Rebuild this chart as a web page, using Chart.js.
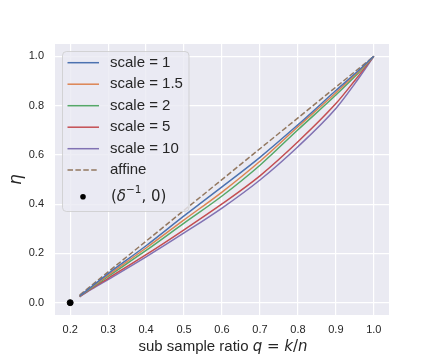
<!DOCTYPE html>
<html>
<head>
<meta charset="utf-8">
<script src="https://cdn.jsdelivr.net/npm/chart.js@4.4.0/dist/chart.umd.min.js"></script>
<style>
  body { margin: 0; background: #ffffff; }
  #wrap { width: 432px; height: 360px; }
</style>
</head>
<body>
<div id="wrap"><canvas id="myChart" width="432" height="360"></canvas></div>
<script>
// sub sample ratio q where the curves were read
const qValues = [0.225, 0.25, 0.3, 0.4, 0.5, 0.6, 0.7, 0.8, 0.9, 0.95, 1.0];

// eta for each scale
const scale1 = [0.027, 0.057, 0.118, 0.231, 0.352, 0.470, 0.590, 0.722, 0.861, 0.929, 1.0];
const scale15 = [0.027, 0.056, 0.112, 0.222, 0.336, 0.449, 0.574, 0.714, 0.852, 0.924, 1.0];
const scale2 = [0.026, 0.054, 0.107, 0.212, 0.323, 0.433, 0.558, 0.702, 0.843, 0.918, 1.0];
const scale5 = [0.025, 0.051, 0.099, 0.195, 0.296, 0.401, 0.515, 0.653, 0.808, 0.902, 1.0];
const scale10 = [0.024, 0.049, 0.094, 0.186, 0.283, 0.384, 0.498, 0.633, 0.788, 0.889, 1.0];

const affineQ = [0.225, 1.0];
const affineEta = [0.031, 1.0];

const pointQ = [0.2];
const pointEta = [0.0];

const seriesLabels = ["scale = 1", "scale = 1.5", "scale = 2", "scale = 5", "scale = 10"];
const xTicks = [0.2, 0.3, 0.4, 0.5, 0.6, 0.7, 0.8, 0.9, 1.0];
const yTicks = [0.0, 0.2, 0.4, 0.6, 0.8, 1.0];

const colors = ["#4C72B0", "#DD8452", "#55A868", "#C44E52", "#8172B3"];
const affineColor = "#937860";
const FONT = "'Liberation Sans', Arial, sans-serif";

const zip = (xs, ys) => xs.map((x, i) => ({ x: x, y: ys[i] }));

let chartInstance;

// grey panel behind the plot (seaborn darkgrid look)
const panelBg = {
  id: "panelBg",
  beforeDraw(chart) {
    const { ctx, chartArea: a } = chart;
    ctx.save();
    ctx.fillStyle = "#ffffff";
    ctx.fillRect(0, 0, chart.width, chart.height);
    ctx.fillStyle = "#EAEAF2";
    ctx.fillRect(a.left, a.top, a.right - a.left, a.bottom - a.top);
    ctx.restore();
  }
};

// draws pieces of text with their own fonts one after another
function drawRuns(ctx, runs, x, y) {
  let cx = x;
  runs.forEach(r => {
    ctx.font = r.font;
    ctx.fillText(r.t, cx, y + (r.dy || 0));
    cx += ctx.measureText(r.t).width;
  });
  return cx;
}
function runsWidth(ctx, runs) {
  let w = 0;
  runs.forEach(r => { ctx.font = r.font; w += ctx.measureText(r.t).width; });
  return w;
}

// legend box + axis titles
const decorations = {
  id: "decorations",
  afterDraw(chart) {
    const { ctx, chartArea: a } = chart;
    ctx.save();

    // legend frame
    const bx = 62.5, by = 51.5, bw = 126.5, bh = 160, r = 4;
    ctx.beginPath();
    ctx.moveTo(bx + r, by);
    ctx.arcTo(bx + bw, by, bx + bw, by + bh, r);
    ctx.arcTo(bx + bw, by + bh, bx, by + bh, r);
    ctx.arcTo(bx, by + bh, bx, by, r);
    ctx.arcTo(bx, by, bx + bw, by, r);
    ctx.closePath();
    ctx.fillStyle = "rgba(234,234,242,0.8)";
    ctx.fill();
    ctx.strokeStyle = "rgba(204,204,204,0.8)";
    ctx.lineWidth = 1;
    ctx.stroke();

    ctx.textBaseline = "middle";
    ctx.fillStyle = "#262626";
    const rowY = [62.7, 84.2, 105.7, 127.2, 148.7];
    seriesLabels.forEach((lab, i) => {
      ctx.strokeStyle = colors[i];
      ctx.lineWidth = 1.5;
      ctx.setLineDash([]);
      ctx.beginPath();
      ctx.moveTo(67.5, rowY[i]);
      ctx.lineTo(99, rowY[i]);
      ctx.stroke();
      ctx.font = "15px " + FONT;
      ctx.fillText(lab, 110, rowY[i]);
    });
    // affine
    ctx.strokeStyle = affineColor;
    ctx.setLineDash([5.5, 2.4]);
    ctx.beginPath();
    ctx.moveTo(67.5, 170);
    ctx.lineTo(99, 170);
    ctx.stroke();
    ctx.setLineDash([]);
    ctx.font = "15px " + FONT;
    ctx.fillText("affine", 110, 170);
    // point entry
    ctx.fillStyle = "#000000";
    ctx.beginPath();
    ctx.arc(83, 196.7, 2.8, 0, Math.PI * 2);
    ctx.fill();
    ctx.fillStyle = "#262626";
    drawRuns(ctx, [
      { t: "(", font: "15px 'DejaVu Sans'" },
      { t: "δ", font: "italic 15px 'DejaVu Sans'" },
      { t: "−1", font: "10.5px 'DejaVu Sans'", dy: -6 },
      { t: ", 0)", font: "15px 'DejaVu Sans'" }
    ], 111, 196.7);

    // x axis title
    const xRuns = [
      { t: "sub sample ratio ", font: "15px " + FONT },
      { t: "q", font: "italic 15px 'DejaVu Sans'" },
      { t: " = ", font: "15px 'DejaVu Sans'" },
      { t: "k", font: "italic 15px 'DejaVu Sans'" },
      { t: "/", font: "15px 'DejaVu Sans'" },
      { t: "n", font: "italic 15px 'DejaVu Sans'" }
    ];
    const w = runsWidth(ctx, xRuns);
    drawRuns(ctx, xRuns, (a.left + a.right) / 2 - w / 2 + 1, 347);

    // y axis title
    ctx.translate(17, (a.top + a.bottom) / 2);
    ctx.rotate(-Math.PI / 2);
    ctx.textAlign = "center";
    ctx.font = "italic 17px 'DejaVu Sans'";
    ctx.fillText("η", 0, 0);
    ctx.restore();
  }
};

const createChart = () => {
  const ctx = document.getElementById("myChart").getContext("2d");
  if (chartInstance) {
    chartInstance.destroy();
  }

  const allScales = [scale1, scale15, scale2, scale5, scale10];
  const lineSets = allScales.map((vals, i) => ({
    type: "line",
    label: seriesLabels[i],
    data: zip(qValues, vals),
    borderColor: colors[i],
    borderWidth: 1.5,
    pointRadius: 0,
    cubicInterpolationMode: "monotone",
    fill: false
  }));

  const data = {
    datasets: [
      ...lineSets,
      {
        type: "line",
        label: "affine",
        data: zip(affineQ, affineEta),
        borderColor: affineColor,
        borderWidth: 1.5,
        borderDash: [5.5, 2.4],
        pointRadius: 0,
        fill: false
      },
      {
        type: "scatter",
        label: "(δ⁻¹, 0)",
        data: zip(pointQ, pointEta),
        backgroundColor: "#000000",
        borderColor: "#000000",
        pointRadius: 3
      }
    ]
  };

  const tickFont = { family: FONT, size: 11 };

  const config = {
    type: "line",
    data: data,
    plugins: [panelBg, decorations],
    options: {
      responsive: false,
      animation: false,
      layout: { padding: { top: 44, right: 43, left: 0, bottom: 0 } },
      plugins: {
        legend: { display: false },
        tooltip: { enabled: false }
      },
      scales: {
        x: {
          type: "linear",
          min: 0.16,
          max: 1.04,
          afterBuildTicks: (s) => { s.ticks = xTicks.map(v => ({ value: v })); },
          afterFit: (s) => { s.height = 45; },
          grid: { color: "#ffffff", lineWidth: 1.2, drawTicks: false },
          border: { display: false },
          ticks: {
            font: tickFont,
            color: "#262626",
            padding: 8,
            maxRotation: 0,
            callback: (v) => Number(v).toFixed(1)
          }
        },
        y: {
          type: "linear",
          min: -0.05,
          max: 1.05,
          afterBuildTicks: (s) => { s.ticks = yTicks.map(v => ({ value: v })); },
          afterFit: (s) => { s.width = 55; },
          grid: { color: "#ffffff", lineWidth: 1.2, drawTicks: false },
          border: { display: false },
          ticks: {
            font: tickFont,
            color: "#262626",
            padding: 11,
            callback: (v) => Number(v).toFixed(1)
          }
        }
      }
    }
  };

  chartInstance = new Chart(ctx, config);
};

document.addEventListener("DOMContentLoaded", createChart);
</script>
</body>
</html>
